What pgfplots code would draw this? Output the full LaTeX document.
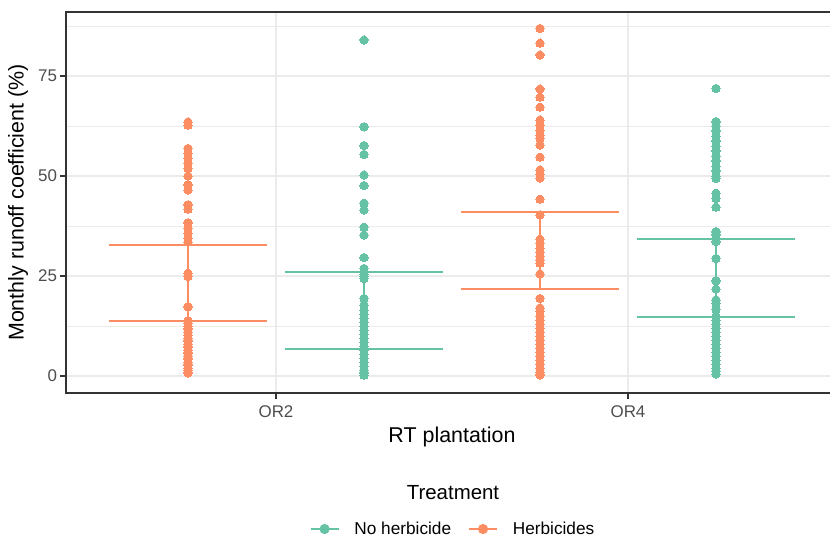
\documentclass[border=0pt]{standalone}
\usepackage{pgfplots}
\pgfplotsset{compat=1.18}
\usepackage{fontspec}
\setmainfont{Liberation Sans}
\definecolor{grn}{HTML}{66C2A5}
\definecolor{org}{HTML}{FC8D62}
\definecolor{gridc}{HTML}{EBEBEB}
\definecolor{tickc}{HTML}{4D4D4D}
\definecolor{axc}{HTML}{333333}
\begin{document}
\begin{tikzpicture}
\useasboundingbox (0,0) rectangle (830bp,-538bp);
\begin{axis}[
  at={(66bp,-393bp)}, anchor=south west,
  scale only axis, width=772bp, height=381bp,
  xmin=0.4034, xmax=2.5966, ymin=-4.25, ymax=91,
  xtick={1,2}, xticklabels={OR2,OR4},
  ytick={0,25,50,75}, minor ytick={12.5,37.5,62.5,87.5},
  grid=both,
  major grid style={gridc, line width=1.1bp},
  minor grid style={gridc, line width=0.6bp},
  tick align=outside, major tick length=5.5bp, minor tick length=0pt,
  xtick pos=bottom, ytick pos=left,
  tick style={axc, line width=1.1bp},
  axis line style={axc, line width=1.3bp},
  /pgf/number format/assume math mode=true,
  ticklabel style={font=\fontsize{17}{20}\selectfont, text=tickc},
  xticklabel style={yshift=-4bp},
  xlabel={RT plantation}, ylabel={Monthly runoff coefficient (\%)},
  label style={font=\fontsize{21.5}{24}\selectfont},
  xlabel style={at={(axis description cs:0.5,-0.1312)}, anchor=base},
  ylabel style={at={(axis description cs:-0.0622,0.5)}, anchor=center},
  legend style={at={(axis description cs:0.5013,-0.357)}, anchor=center, draw=none, fill=none,
    font=\fontsize{17.3}{20}\selectfont, legend columns=2,
    /tikz/every odd column/.append style={column sep=13bp},
    /tikz/every even column/.append style={column sep=15bp}},
  every axis plot/.append style={line width=1.7bp},
]
% --- No herbicide, OR2 (x = 1.25)
\addplot[only marks, mark=*, mark size=4.2bp, mark options={fill=grn, draw=grn, line width=0pt},
  legend image code/.code={\draw[grn, line width=1.7bp] (0bp,0bp) -- (28bp,0bp); \fill[grn] (14bp,0bp) circle (4.2bp);}]
coordinates {
(1.25,84.0) (1.25,62.3) (1.25,57.6) (1.25,55.4) (1.25,50.25) (1.25,47.6) (1.25,43.2) (1.25,41.5)
(1.25,37.2) (1.25,35.25) (1.25,29.6) (1.25,26.9) (1.25,26.2) (1.25,25.5) (1.25,24.9) (1.25,24.4)
(1.25,19.4) (1.25,17.75) (1.25,16.5) (1.25,15.5) (1.25,14.5) (1.25,13.5) (1.25,12.5) (1.25,11.5)
(1.25,10.5) (1.25,9.5) (1.25,8.5) (1.25,7.5) (1.25,6.5) (1.25,5.5) (1.25,4.5) (1.25,3.5)
(1.25,2.5) (1.25,1.5) (1.25,0.8) (1.25,0.2)
};
\addlegendentry{No herbicide}
% --- Herbicides, OR2 (x = 0.75)
\addplot[only marks, mark=*, mark size=4.2bp, mark options={fill=org, draw=org, line width=0pt},
  legend image code/.code={\draw[org, line width=1.7bp] (0bp,0bp) -- (28bp,0bp); \fill[org] (14bp,0bp) circle (4.2bp);}]
coordinates {
(0.75,63.5) (0.75,62.7) (0.75,56.9) (0.75,55.7) (0.75,54.4) (0.75,53.2) (0.75,51.9) (0.75,50.0)
(0.75,47.8) (0.75,46.5) (0.75,42.8) (0.75,41.7) (0.75,38.3) (0.75,36.9) (0.75,35.7) (0.75,34.4)
(0.75,33.5) (0.75,25.7) (0.75,24.9) (0.75,17.3) (0.75,13.8) (0.75,13.2) (0.75,12.5) (0.75,11.8)
(0.75,11.0) (0.75,10.2) (0.75,9.5) (0.75,8.8) (0.75,8.0) (0.75,7.3) (0.75,6.5) (0.75,5.8)
(0.75,5.0) (0.75,4.3) (0.75,3.5) (0.75,2.8) (0.75,2.0) (0.75,1.4) (0.75,0.8)
};
\addlegendentry{Herbicides}
% --- Herbicides, OR4 (x = 1.75)
\addplot[forget plot, only marks, mark=*, mark size=4.2bp, mark options={fill=org, draw=org, line width=0pt}]
coordinates {
(1.75,86.9) (1.75,83.2) (1.75,80.25) (1.75,71.75) (1.75,69.7) (1.75,67.2) (1.75,64.0) (1.75,62.75)
(1.75,61.5) (1.75,60.25) (1.75,59.4) (1.75,57.75) (1.75,54.7) (1.75,51.5) (1.75,50.5) (1.75,49.5)
(1.75,44.2) (1.75,40.25) (1.75,34.2) (1.75,33.2) (1.75,32.0) (1.75,31.0) (1.75,30.0) (1.75,29.0)
(1.75,28.2) (1.75,25.5) (1.75,19.4) (1.75,17.0) (1.75,16.2) (1.75,15.0) (1.75,14.0) (1.75,13.0)
(1.75,12.0) (1.75,11.0) (1.75,10.0) (1.75,9.0) (1.75,8.0) (1.75,7.0) (1.75,6.0) (1.75,5.0)
(1.75,4.0) (1.75,3.0) (1.75,2.0) (1.75,1.0) (1.75,0.3)
};
% --- No herbicide, OR4 (x = 2.25)
\addplot[forget plot, only marks, mark=*, mark size=4.2bp, mark options={fill=grn, draw=grn, line width=0pt}]
coordinates {
(2.25,71.9) (2.25,63.6) (2.25,62.5) (2.25,61.3) (2.25,60.0) (2.25,58.8) (2.25,57.5) (2.25,56.3)
(2.25,55.0) (2.25,53.8) (2.25,52.5) (2.25,51.3) (2.25,50.0) (2.25,49.4) (2.25,45.7) (2.25,44.4)
(2.25,42.2) (2.25,36.1) (2.25,35.3) (2.25,34.5) (2.25,33.6) (2.25,29.4) (2.25,23.8) (2.25,21.75)
(2.25,19.0) (2.25,18.2) (2.25,16.7) (2.25,14.8) (2.25,14.0) (2.25,13.0) (2.25,12.0) (2.25,11.0)
(2.25,10.0) (2.25,9.0) (2.25,8.0) (2.25,7.0) (2.25,6.0) (2.25,5.0) (2.25,4.0) (2.25,3.0)
(2.25,2.0) (2.25,1.2) (2.25,0.5)
};
% --- error bars (caps and stems)
\addplot[forget plot, org, no marks] coordinates {(0.525,32.75) (0.975,32.75)};
\addplot[forget plot, org, no marks] coordinates {(0.525,13.75) (0.975,13.75)};
\addplot[forget plot, org, no marks] coordinates {(0.75,13.75) (0.75,32.75)};
\addplot[forget plot, grn, no marks] coordinates {(1.025,26.0) (1.475,26.0)};
\addplot[forget plot, grn, no marks] coordinates {(1.025,6.7) (1.475,6.7)};
\addplot[forget plot, grn, no marks] coordinates {(1.25,6.7) (1.25,26.0)};
\addplot[forget plot, org, no marks] coordinates {(1.525,41.0) (1.975,41.0)};
\addplot[forget plot, org, no marks] coordinates {(1.525,21.7) (1.975,21.7)};
\addplot[forget plot, org, no marks] coordinates {(1.75,21.7) (1.75,41.0)};
\addplot[forget plot, grn, no marks] coordinates {(2.025,34.2) (2.475,34.2)};
\addplot[forget plot, grn, no marks] coordinates {(2.025,14.8) (2.475,14.8)};
\addplot[forget plot, grn, no marks] coordinates {(2.25,14.8) (2.25,34.2)};
\end{axis}
\node[anchor=base, font=\fontsize{20.5}{24}\selectfont] at (453bp,-499.3bp) {Treatment};
\end{tikzpicture}
\end{document}
